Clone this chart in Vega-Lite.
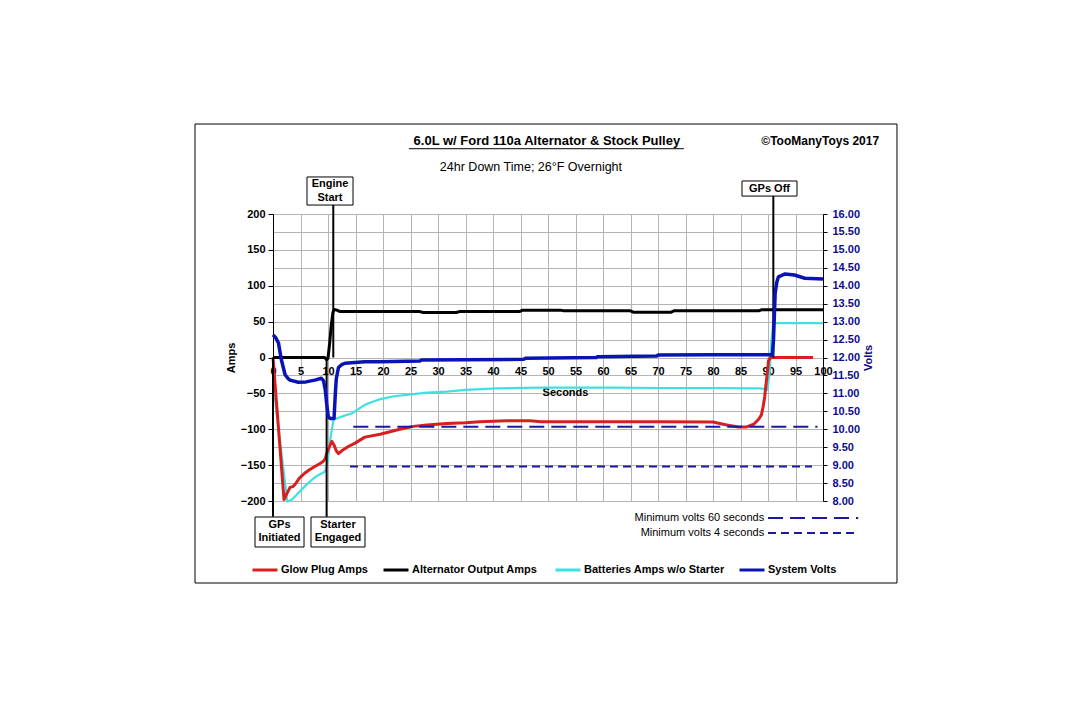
{
  "$schema": "https://vega.github.io/schema/vega-lite/v6.json",
  "width": 550,
  "height": 287,
  "autosize": {"type": "none"},
  "padding": {"left": 273, "top": 214, "right": 257, "bottom": 219},
  "background": "white",
  "config": {
    "view": {"stroke": null},
    "font": "Liberation Sans",
    "legend": {
      "orient": "none", "legendX": -22, "legendY": 342, "direction": "horizontal", "columns": 4,
      "symbolType": "stroke", "symbolSize": 625, "symbolStrokeWidth": 3,
      "labelFont": "Liberation Sans", "labelFontWeight": "bold", "labelFontSize": 11, "labelColor": "black",
      "labelOffset": 2, "columnPadding": 8, "padding": 0, "title": null, "labelLimit": 300
    }
  },
  "datasets": {
    "amps": [
      {"series": "Glow Plug Amps", "t": 0, "amps": 0}, {"series": "Glow Plug Amps", "t": 2.0, "amps": -198}, {"series": "Glow Plug Amps", "t": 2.5, "amps": -190}, {"series": "Glow Plug Amps", "t": 3.1, "amps": -181}, {"series": "Glow Plug Amps", "t": 3.6, "amps": -180}, {"series": "Glow Plug Amps", "t": 4.0, "amps": -177}, {"series": "Glow Plug Amps", "t": 4.8, "amps": -168}, {"series": "Glow Plug Amps", "t": 5.8, "amps": -161}, {"series": "Glow Plug Amps", "t": 6.7, "amps": -156}, {"series": "Glow Plug Amps", "t": 7.6, "amps": -152}, {"series": "Glow Plug Amps", "t": 8.5, "amps": -148}, {"series": "Glow Plug Amps", "t": 9.1, "amps": -145}, {"series": "Glow Plug Amps", "t": 9.5, "amps": -141}, {"series": "Glow Plug Amps", "t": 9.75, "amps": -134}, {"series": "Glow Plug Amps", "t": 10.2, "amps": -125}, {"series": "Glow Plug Amps", "t": 10.7, "amps": -117}, {"series": "Glow Plug Amps", "t": 11.1, "amps": -122}, {"series": "Glow Plug Amps", "t": 11.5, "amps": -130}, {"series": "Glow Plug Amps", "t": 11.9, "amps": -134}, {"series": "Glow Plug Amps", "t": 12.5, "amps": -130}, {"series": "Glow Plug Amps", "t": 13.7, "amps": -124}, {"series": "Glow Plug Amps", "t": 15, "amps": -119}, {"series": "Glow Plug Amps", "t": 16.7, "amps": -111}, {"series": "Glow Plug Amps", "t": 19.5, "amps": -107}, {"series": "Glow Plug Amps", "t": 22.5, "amps": -101}, {"series": "Glow Plug Amps", "t": 25.5, "amps": -96}, {"series": "Glow Plug Amps", "t": 28, "amps": -94}, {"series": "Glow Plug Amps", "t": 31.6, "amps": -92}, {"series": "Glow Plug Amps", "t": 35, "amps": -91}, {"series": "Glow Plug Amps", "t": 37.6, "amps": -89.5}, {"series": "Glow Plug Amps", "t": 42.5, "amps": -88}, {"series": "Glow Plug Amps", "t": 46.7, "amps": -88}, {"series": "Glow Plug Amps", "t": 48.8, "amps": -89.5}, {"series": "Glow Plug Amps", "t": 55, "amps": -89.5}, {"series": "Glow Plug Amps", "t": 60, "amps": -89.5}, {"series": "Glow Plug Amps", "t": 70, "amps": -89.5}, {"series": "Glow Plug Amps", "t": 80, "amps": -90}, {"series": "Glow Plug Amps", "t": 82.5, "amps": -94}, {"series": "Glow Plug Amps", "t": 84.6, "amps": -97}, {"series": "Glow Plug Amps", "t": 86, "amps": -97}, {"series": "Glow Plug Amps", "t": 87.4, "amps": -93}, {"series": "Glow Plug Amps", "t": 88.3, "amps": -86}, {"series": "Glow Plug Amps", "t": 88.8, "amps": -80}, {"series": "Glow Plug Amps", "t": 89.1, "amps": -69}, {"series": "Glow Plug Amps", "t": 89.4, "amps": -55}, {"series": "Glow Plug Amps", "t": 89.6, "amps": -40}, {"series": "Glow Plug Amps", "t": 89.9, "amps": -20}, {"series": "Glow Plug Amps", "t": 90.1, "amps": -4}, {"series": "Glow Plug Amps", "t": 90.5, "amps": 0}, {"series": "Glow Plug Amps", "t": 98.2, "amps": 0},
      {"series": "Batteries Amps w/o Starter", "t": 0, "amps": -35}, {"series": "Batteries Amps w/o Starter", "t": 1.3, "amps": -118}, {"series": "Batteries Amps w/o Starter", "t": 2.6, "amps": -201}, {"series": "Batteries Amps w/o Starter", "t": 3.2, "amps": -199}, {"series": "Batteries Amps w/o Starter", "t": 3.6, "amps": -197}, {"series": "Batteries Amps w/o Starter", "t": 4.6, "amps": -189}, {"series": "Batteries Amps w/o Starter", "t": 5.5, "amps": -182}, {"series": "Batteries Amps w/o Starter", "t": 6.4, "amps": -175}, {"series": "Batteries Amps w/o Starter", "t": 7.3, "amps": -169}, {"series": "Batteries Amps w/o Starter", "t": 8.2, "amps": -164}, {"series": "Batteries Amps w/o Starter", "t": 9.0, "amps": -161}, {"series": "Batteries Amps w/o Starter", "t": 9.45, "amps": -159}, {"series": "Batteries Amps w/o Starter", "t": 9.8, "amps": -150}, {"series": "Batteries Amps w/o Starter", "t": 10.06, "amps": -138}, {"series": "Batteries Amps w/o Starter", "t": 10.5, "amps": -110}, {"series": "Batteries Amps w/o Starter", "t": 11, "amps": -87}, {"series": "Batteries Amps w/o Starter", "t": 11.9, "amps": -84}, {"series": "Batteries Amps w/o Starter", "t": 13, "amps": -81}, {"series": "Batteries Amps w/o Starter", "t": 14.3, "amps": -78}, {"series": "Batteries Amps w/o Starter", "t": 15.5, "amps": -72}, {"series": "Batteries Amps w/o Starter", "t": 16.7, "amps": -66}, {"series": "Batteries Amps w/o Starter", "t": 18, "amps": -62}, {"series": "Batteries Amps w/o Starter", "t": 19.5, "amps": -58}, {"series": "Batteries Amps w/o Starter", "t": 22, "amps": -54}, {"series": "Batteries Amps w/o Starter", "t": 25.5, "amps": -51}, {"series": "Batteries Amps w/o Starter", "t": 28, "amps": -49}, {"series": "Batteries Amps w/o Starter", "t": 31.6, "amps": -47.5}, {"series": "Batteries Amps w/o Starter", "t": 35, "amps": -45}, {"series": "Batteries Amps w/o Starter", "t": 40.7, "amps": -43}, {"series": "Batteries Amps w/o Starter", "t": 48.8, "amps": -42}, {"series": "Batteries Amps w/o Starter", "t": 62, "amps": -42}, {"series": "Batteries Amps w/o Starter", "t": 70, "amps": -42.5}, {"series": "Batteries Amps w/o Starter", "t": 80, "amps": -42.5}, {"series": "Batteries Amps w/o Starter", "t": 88.5, "amps": -43}, {"series": "Batteries Amps w/o Starter", "t": 89.5, "amps": -44}, {"series": "Batteries Amps w/o Starter", "t": 89.9, "amps": -45}, {"series": "Batteries Amps w/o Starter", "t": 90.3, "amps": -20}, {"series": "Batteries Amps w/o Starter", "t": 90.6, "amps": 20}, {"series": "Batteries Amps w/o Starter", "t": 90.9, "amps": 45}, {"series": "Batteries Amps w/o Starter", "t": 91.2, "amps": 48}, {"series": "Batteries Amps w/o Starter", "t": 100, "amps": 48},
      {"series": "Alternator Output  Amps", "t": 0, "amps": 0}, {"series": "Alternator Output  Amps", "t": 9.4, "amps": 0}, {"series": "Alternator Output  Amps", "t": 9.75, "amps": -3}, {"series": "Alternator Output  Amps", "t": 10.0, "amps": -1}, {"series": "Alternator Output  Amps", "t": 10.3, "amps": 20}, {"series": "Alternator Output  Amps", "t": 10.6, "amps": 45}, {"series": "Alternator Output  Amps", "t": 10.9, "amps": 63}, {"series": "Alternator Output  Amps", "t": 11.1, "amps": 67}, {"series": "Alternator Output  Amps", "t": 11.6, "amps": 66}, {"series": "Alternator Output  Amps", "t": 12.2, "amps": 64}, {"series": "Alternator Output  Amps", "t": 26.7, "amps": 64}, {"series": "Alternator Output  Amps", "t": 27.3, "amps": 62.7}, {"series": "Alternator Output  Amps", "t": 33.3, "amps": 62.7}, {"series": "Alternator Output  Amps", "t": 33.9, "amps": 64}, {"series": "Alternator Output  Amps", "t": 44.8, "amps": 64}, {"series": "Alternator Output  Amps", "t": 45.4, "amps": 66}, {"series": "Alternator Output  Amps", "t": 52.3, "amps": 66}, {"series": "Alternator Output  Amps", "t": 52.9, "amps": 65}, {"series": "Alternator Output  Amps", "t": 65, "amps": 65}, {"series": "Alternator Output  Amps", "t": 65.6, "amps": 63}, {"series": "Alternator Output  Amps", "t": 72.3, "amps": 63}, {"series": "Alternator Output  Amps", "t": 72.9, "amps": 65}, {"series": "Alternator Output  Amps", "t": 88.3, "amps": 65}, {"series": "Alternator Output  Amps", "t": 88.8, "amps": 66.5}, {"series": "Alternator Output  Amps", "t": 100, "amps": 66.5}
    ],
    "volts": [
      {"series": "System Volts", "t": 0, "v": 12.63}, {"series": "System Volts", "t": 0.5, "v": 12.55}, {"series": "System Volts", "t": 1.0, "v": 12.4}, {"series": "System Volts", "t": 1.5, "v": 11.95}, {"series": "System Volts", "t": 2.2, "v": 11.52}, {"series": "System Volts", "t": 2.7, "v": 11.42}, {"series": "System Volts", "t": 3.1, "v": 11.37}, {"series": "System Volts", "t": 4.6, "v": 11.31}, {"series": "System Volts", "t": 6, "v": 11.32}, {"series": "System Volts", "t": 7.6, "v": 11.37}, {"series": "System Volts", "t": 8.8, "v": 11.42}, {"series": "System Volts", "t": 9.2, "v": 11.35}, {"series": "System Volts", "t": 9.5, "v": 11.1}, {"series": "System Volts", "t": 9.75, "v": 10.72}, {"series": "System Volts", "t": 10.06, "v": 10.35}, {"series": "System Volts", "t": 10.4, "v": 10.3}, {"series": "System Volts", "t": 11.1, "v": 10.3}, {"series": "System Volts", "t": 11.3, "v": 10.9}, {"series": "System Volts", "t": 11.5, "v": 11.4}, {"series": "System Volts", "t": 11.9, "v": 11.72}, {"series": "System Volts", "t": 12.5, "v": 11.8}, {"series": "System Volts", "t": 13.1, "v": 11.84}, {"series": "System Volts", "t": 16.7, "v": 11.88}, {"series": "System Volts", "t": 19.5, "v": 11.88}, {"series": "System Volts", "t": 26.7, "v": 11.9}, {"series": "System Volts", "t": 27, "v": 11.93}, {"series": "System Volts", "t": 45.5, "v": 11.95}, {"series": "System Volts", "t": 46, "v": 11.98}, {"series": "System Volts", "t": 58.8, "v": 12.0}, {"series": "System Volts", "t": 59, "v": 12.02}, {"series": "System Volts", "t": 69.8, "v": 12.04}, {"series": "System Volts", "t": 70, "v": 12.07}, {"series": "System Volts", "t": 80, "v": 12.08}, {"series": "System Volts", "t": 90.8, "v": 12.08}, {"series": "System Volts", "t": 91.0, "v": 12.5}, {"series": "System Volts", "t": 91.3, "v": 13.79}, {"series": "System Volts", "t": 91.6, "v": 14.1}, {"series": "System Volts", "t": 91.9, "v": 14.25}, {"series": "System Volts", "t": 93.1, "v": 14.33}, {"series": "System Volts", "t": 94.8, "v": 14.3}, {"series": "System Volts", "t": 96.7, "v": 14.21}, {"series": "System Volts", "t": 100, "v": 14.19}
    ],
    "minvolts": [
      {"name": "Minimum volts 60 seconds", "t": 14.6, "t2": 99, "v": 10.07},
      {"name": "Minimum volts 4 seconds", "t": 14, "t2": 98, "v": 8.96}
    ],
    "markers": [
      {"event": "GPs Initiated", "t": 0, "amps": -222, "amps2": 0},
      {"event": "Starter Engaged", "t": 9.75, "amps": -222, "amps2": -2},
      {"event": "Engine Start", "t": 10.96, "amps": 212.5, "amps2": 0},
      {"event": "GPs Off", "t": 90.97, "amps": 225, "amps2": 0}
    ],
    "boxes": [
      {"event": "Engine\nStart", "t": 6.18, "t2": 14.55, "amps": 251.6, "amps2": 212.5, "tc": 10.36, "ac": 241.7},
      {"event": "GPs Off", "t": 85.27, "t2": 95.27, "amps": 246, "amps2": 225, "tc": 90.27, "ac": 235.5},
      {"event": "GPs\nInitiated", "t": -3.27, "t2": 5.64, "amps": -222.3, "amps2": -264.1, "tc": 1.18, "ac": -233.4},
      {"event": "Starter\nEngaged", "t": 6.91, "t2": 16.73, "amps": -222.3, "amps2": -264.1, "tc": 11.82, "ac": -233.4}
    ]
  },
  "encoding": {
    "x": {"field": "t", "type": "quantitative", "scale": {"domain": [0, 100], "nice": false, "zero": false},
      "axis": {"values": [0,5,10,15,20,25,30,35,40,45,50,55,60,65,70,75,80,85,90,95,100], "grid": true, "gridColor": "#b4b4b4", "gridWidth": 1,
        "domain": false, "ticks": false, "offset": -143.5, "labelFlush": false, "labelOverlap": false,
        "labelFont": "Liberation Sans", "labelFontWeight": "bold", "labelFontSize": 11, "labelColor": "black", "labelPadding": 8,
        "title": "Seconds", "titleFont": "Liberation Sans", "titleFontWeight": "bold", "titleFontSize": 11, "titleColor": "black",
        "titlePadding": 10, "titleX": 292, "titleAlign": "center"}}
  },
  "layer": [
    {
      "encoding": {
        "y": {"field": "amps", "type": "quantitative", "scale": {"domain": [-200, 200], "nice": false, "zero": false},
          "axis": {"values": [-200,-175,-150,-125,-100,-75,-50,-25,0,25,50,75,100,125,150,175,200], "grid": true, "gridColor": "#b4b4b4", "gridWidth": 1,
            "domainColor": "black", "tickColor": "black", "tickSize": 5,
            "tickOpacity": {"condition": {"test": "datum.value % 50 === 0", "value": 1}, "value": 0},
            "labelExpr": "datum.value % 50 === 0 ? datum.label : ''", "format": "d",
            "labelFont": "Liberation Sans", "labelFontWeight": "bold", "labelFontSize": 11, "labelColor": "black", "labelPadding": 3,
            "title": "Amps", "titleFont": "Liberation Sans", "titleFontWeight": "bold", "titleFontSize": 11, "titleColor": "black", "titlePadding": 4}}
      },
      "layer": [
        {"data": {"values": [{"t": -14.18, "t2": 113.45, "amps": 325.4, "amps2": -314.3}]},
         "mark": {"type": "rect", "fill": "transparent", "stroke": "black", "strokeWidth": 1},
         "encoding": {"x2": {"field": "t2"}, "y2": {"field": "amps2"}}},
        {"data": {"name": "amps"}, "transform": [{"filter": "datum.series === 'Batteries Amps w/o Starter'"}],
         "mark": {"type": "line", "strokeWidth": 2.2, "strokeJoin": "round"},
         "encoding": {"color": {"field": "series", "type": "nominal",
           "scale": {"domain": ["Glow Plug Amps", "Alternator Output  Amps", "Batteries Amps w/o Starter", "System Volts"], "range": ["#d81e1e", "#000000", "#40e0e0", "#0a14b4"]}}}},
        {"data": {"name": "amps"}, "transform": [{"filter": "datum.series === 'Glow Plug Amps'"}],
         "mark": {"type": "line", "strokeWidth": 3, "strokeJoin": "round"},
         "encoding": {"color": {"field": "series", "type": "nominal"}}},
        {"data": {"name": "amps"}, "transform": [{"filter": "datum.series === 'Alternator Output  Amps'"}],
         "mark": {"type": "line", "strokeWidth": 3, "strokeJoin": "round"},
         "encoding": {"color": {"field": "series", "type": "nominal"}}},
        {"data": {"name": "markers"}, "mark": {"type": "rule", "color": "black", "strokeWidth": 2},
         "encoding": {"y2": {"field": "amps2"}}},
        {"data": {"name": "boxes"}, "mark": {"type": "rect", "fill": "white", "stroke": "black", "strokeWidth": 1},
         "encoding": {"x2": {"field": "t2"}, "y2": {"field": "amps2"}}},
        {"data": {"name": "boxes"}, "mark": {"type": "text", "font": "Liberation Sans", "fontWeight": "bold", "fontSize": 11, "color": "black", "lineBreak": "\n", "lineHeight": 13.5, "align": "center", "baseline": "middle"},
         "encoding": {"x": {"field": "tc", "type": "quantitative"}, "y": {"field": "ac", "type": "quantitative"}, "text": {"field": "event"}}},
        {"data": {"values": [{"label": "6.0L w/ Ford 110a Alternator & Stock Pulley", "t": 49.8, "amps": 301.7}]},
         "mark": {"type": "text", "font": "Liberation Sans Narrow, Arial Narrow, Liberation Sans, sans-serif", "fontWeight": "bold", "fontSize": 13, "color": "black", "align": "center", "baseline": "middle"},
         "encoding": {"text": {"field": "label"}}},
        {"data": {"values": [{"t": 24.7, "t2": 74.7, "amps": 291}]},
         "mark": {"type": "rule", "color": "black", "strokeWidth": 1},
         "encoding": {"x2": {"field": "t2"}}},
        {"data": {"values": [{"label": "©TooManyToys 2017", "t": 110.2, "amps": 301.7}]},
         "mark": {"type": "text", "font": "Liberation Sans Narrow, Arial Narrow, Liberation Sans, sans-serif", "fontWeight": "bold", "fontSize": 12, "color": "black", "align": "right", "baseline": "middle"},
         "encoding": {"text": {"field": "label"}}},
        {"data": {"values": [{"label": "24hr Down Time;  26°F Overnight", "t": 46.9, "amps": 265.5}]},
         "mark": {"type": "text", "font": "Liberation Sans Narrow, Arial Narrow, Liberation Sans, sans-serif", "fontSize": 12.5, "color": "black", "align": "center", "baseline": "middle"},
         "encoding": {"text": {"field": "label"}}},
        {"data": {"values": [{"label": "Minimum volts 60 seconds", "t": 89.3, "amps": -223.8}, {"label": "Minimum volts 4 seconds", "t": 89.3, "amps": -244.7}]},
         "mark": {"type": "text", "font": "Liberation Sans", "fontSize": 11, "color": "black", "align": "right", "baseline": "middle"},
         "encoding": {"text": {"field": "label"}}},
        {"data": {"values": [{"t": 90, "t2": 106.4, "amps": -223.8}]},
         "mark": {"type": "rule", "color": "#1a1aa0", "strokeWidth": 2, "strokeDash": [15, 7]},
         "encoding": {"x2": {"field": "t2"}}},
        {"data": {"values": [{"t": 90, "t2": 106.4, "amps": -244.7}]},
         "mark": {"type": "rule", "color": "#1a1aa0", "strokeWidth": 2, "strokeDash": [8, 5]},
         "encoding": {"x2": {"field": "t2"}}}
      ]
    },
    {
      "encoding": {
        "y": {"field": "v", "type": "quantitative", "scale": {"domain": [8, 16], "nice": false, "zero": false},
          "axis": {"orient": "right", "values": [8,8.5,9,9.5,10,10.5,11,11.5,12,12.5,13,13.5,14,14.5,15,15.5,16], "grid": false, "format": ".2f",
            "domainColor": "black", "tickColor": "black", "tickSize": 4,
            "labelFont": "Liberation Sans", "labelFontWeight": "bold", "labelFontSize": 11, "labelColor": "#0c0c8c", "labelPadding": 5,
            "title": "Volts", "titleFont": "Liberation Sans", "titleFontWeight": "bold", "titleFontSize": 11, "titleColor": "#0c0c8c", "titlePadding": 14, "titleAngle": 270}}
      },
      "layer": [
        {"data": {"name": "volts"}, "mark": {"type": "line", "strokeWidth": 3.5, "strokeJoin": "round"},
         "encoding": {"color": {"field": "series", "type": "nominal"}}},
        {"data": {"name": "minvolts"}, "transform": [{"filter": "datum.name === 'Minimum volts 60 seconds'"}],
         "mark": {"type": "rule", "color": "#1a1aa0", "strokeWidth": 2, "strokeDash": [15, 7]},
         "encoding": {"x2": {"field": "t2"}}},
        {"data": {"name": "minvolts"}, "transform": [{"filter": "datum.name === 'Minimum volts 4 seconds'"}],
         "mark": {"type": "rule", "color": "#1a1aa0", "strokeWidth": 2, "strokeDash": [8, 5]},
         "encoding": {"x2": {"field": "t2"}}}
      ]
    }
  ],
  "resolve": {"scale": {"y": "independent"}}
}
